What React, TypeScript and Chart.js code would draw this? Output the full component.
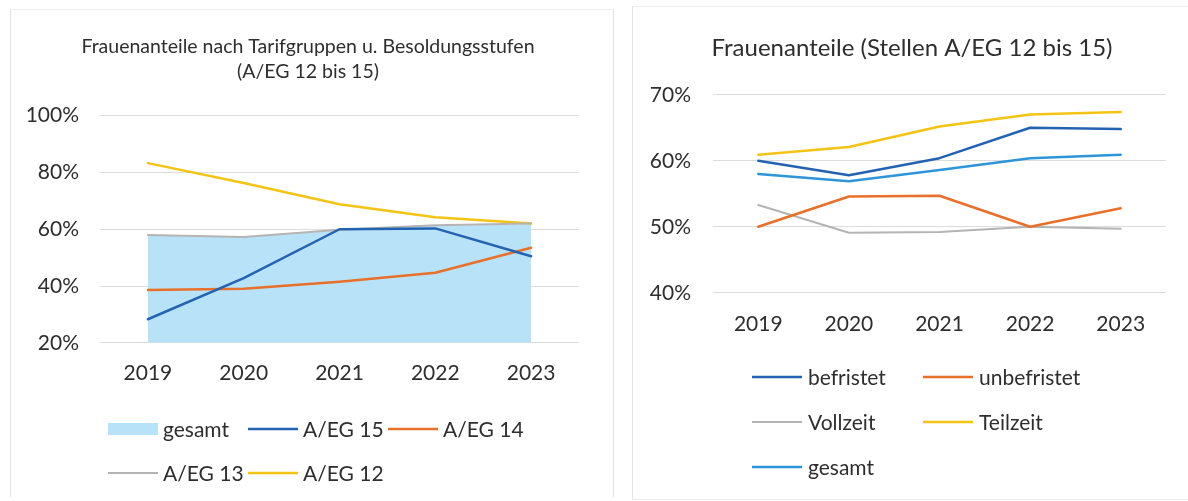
import React, { useEffect, useRef } from "react";
import { Chart, registerables } from "chart.js";

Chart.register(...registerables);

// ---------- data ----------
const years = ["2019", "2020", "2021", "2022", "2023"];

// left chart: Frauenanteile nach Tarifgruppen u. Besoldungsstufen
const leftGesamt = [57.8, 57.2, 59.6, 61.2, 61.8];
const leftAEG15 = [28.3, 42.8, 60.0, 60.3, 50.5];
const leftAEG14 = [38.6, 39.0, 41.5, 44.7, 53.5];
const leftAEG13 = [58.0, 57.3, 59.8, 61.4, 62.0];
const leftAEG12 = [83.3, 76.3, 68.8, 64.2, 62.0];
const leftYTicks = [20, 40, 60, 80, 100];

// right chart: Frauenanteile (Stellen A/EG 12 bis 15)
const rightBefristet = [60.0, 57.8, 60.4, 65.0, 64.8];
const rightUnbefristet = [50.0, 54.6, 54.7, 50.0, 52.8];
const rightVollzeit = [53.3, 49.1, 49.2, 50.0, 49.7];
const rightTeilzeit = [60.9, 62.1, 65.2, 67.0, 67.4];
const rightGesamt = [58.0, 56.9, 58.6, 60.4, 60.9];
const rightYTicks = [40, 50, 60, 70];

const leftTitle = ["Frauenanteile nach Tarifgruppen u. Besoldungsstufen", "(A/EG 12 bis 15)"];
const rightTitle = "Frauenanteile (Stellen A/EG 12 bis 15)";

// ---------- colours ----------
const C_DARKBLUE = "#2463B2";
const C_ORANGE = "#E8702A";
const C_GRAY = "#B4B4B4";
const C_YELLOW = "#F4C414";
const C_LIGHTBLUE = "#2E95D9";
const C_AREA = "#B8E2F7";
const C_TEXT = "#2E2E2E";
const C_GRID = "#DCDCDC";

const FONT = "Lato, 'Open Sans', sans-serif";

// custom grid legend (Excel-like fixed columns)
const gridLegend = {
  id: "gridLegend",
  afterDraw(chart: any, _args: any, opts: any) {
    const { ctx } = chart;
    const ds = chart.data.datasets;
    ctx.save();
    ds.forEach((d: any, i: number) => {
      const col = i % opts.cols;
      const row = Math.floor(i / opts.cols);
      const x = opts.x + col * opts.colWidth;
      const y = opts.y + row * opts.rowHeight;
      if (d.fill) {
        ctx.fillStyle = d.backgroundColor;
        ctx.fillRect(x, y - 6, opts.sample, 12);
      } else {
        ctx.strokeStyle = d.borderColor;
        ctx.lineWidth = d.borderWidth;
        ctx.beginPath();
        ctx.moveTo(x, y);
        ctx.lineTo(x + opts.sample, y);
        ctx.stroke();
      }
      ctx.fillStyle = C_TEXT;
      ctx.font = `${opts.fontSize}px ${FONT}`;
      ctx.textBaseline = "middle";
      ctx.textAlign = "left";
      ctx.fillText(d.label, x + opts.sample + opts.gap, y + 1);
    });
    ctx.restore();
  },
};

function lineDs(label: string, data: number[], color: string, width = 2.5) {
  return {
    label,
    data,
    borderColor: color,
    backgroundColor: color,
    borderWidth: width,
    pointRadius: 0,
    tension: 0,
    fill: false,
    order: 0,
    borderJoinStyle: "round" as const,
    borderCapStyle: "round" as const,
  };
}

function xScale(padding: number) {
  return {
    offset: true,
    grid: { display: false, drawTicks: false },
    border: { display: false },
    ticks: { color: C_TEXT, font: { family: FONT, size: 21 }, padding, maxRotation: 0 },
  };
}

function yScale(min: number, max: number, tickVals: number[], axisWidth: number, padding: number) {
  return {
    min,
    max,
    afterBuildTicks: (axis: any) => {
      axis.ticks = tickVals.map((v) => ({ value: v }));
    },
    afterFit: (axis: any) => {
      axis.width = axisWidth;
      // labels may extend left of the (narrowed) axis box: do not clip them
      axis._computeLabelArea = () => undefined;
    },
    grid: { color: C_GRID, lineWidth: 1, drawTicks: false },
    border: { display: false },
    ticks: {
      color: C_TEXT,
      font: { family: FONT, size: 21 },
      padding,
      callback: (v: any) => `${v}%`,
    },
  };
}

function LeftChart() {
  const ref = useRef<HTMLCanvasElement>(null);
  useEffect(() => {
    const chart = new Chart(ref.current!, {
      type: "line",
      data: {
        labels: years,
        datasets: [
          {
            label: "gesamt",
            data: leftGesamt,
            borderColor: C_AREA,
            backgroundColor: C_AREA,
            borderWidth: 0,
            pointRadius: 0,
            tension: 0,
            fill: "start",
            order: 5,
          },
          lineDs("A/EG 15", leftAEG15, C_DARKBLUE),
          lineDs("A/EG 14", leftAEG14, C_ORANGE),
          lineDs("A/EG 13", leftAEG13, C_GRAY, 2),
          lineDs("A/EG 12", leftAEG12, C_YELLOW),
        ] as any,
      },
      options: {
        responsive: false,
        animation: false,
        devicePixelRatio: 1,
        layout: { padding: { top: 20, left: 37, right: 35, bottom: 97 } },
        plugins: {
          legend: { display: false },
          tooltip: { enabled: false },
          title: {
            display: true,
            text: leftTitle,
            color: C_TEXT,
            font: { family: FONT, size: 19.5, weight: "normal", lineHeight: 1.3 },
            padding: { top: 14, bottom: 31 },
          },
          gridLegend: { x: 108, y: 429, cols: 3, colWidth: 140, rowHeight: 44, sample: 50, gap: 5, fontSize: 21 },
        } as any,
        scales: {
          x: xScale(18),
          y: yScale(20, 100, leftYTicks, 63, 21),
        } as any,
      },
      plugins: [gridLegend],
    });
    return () => chart.destroy();
  }, []);
  return <canvas ref={ref} width={614} height={501} style={{ position: "absolute", left: 0, top: 0, width: 614, height: 501 }} />;
}

function RightChart() {
  const ref = useRef<HTMLCanvasElement>(null);
  useEffect(() => {
    const chart = new Chart(ref.current!, {
      type: "line",
      data: {
        labels: years,
        datasets: [
          lineDs("befristet", rightBefristet, C_DARKBLUE),
          lineDs("unbefristet", rightUnbefristet, C_ORANGE),
          lineDs("Vollzeit", rightVollzeit, C_GRAY, 2),
          lineDs("Teilzeit", rightTeilzeit, C_YELLOW),
          lineDs("gesamt", rightGesamt, C_LIGHTBLUE),
        ] as any,
      },
      options: {
        responsive: false,
        animation: false,
        devicePixelRatio: 1,
        layout: { padding: { top: 20, left: 38, right: 22, bottom: 145 } },
        plugins: {
          legend: { display: false },
          tooltip: { enabled: false },
          title: {
            display: true,
            text: rightTitle,
            color: C_TEXT,
            font: { family: FONT, size: 24, weight: "normal", lineHeight: 1.2 },
            padding: { top: 14, bottom: 32 },
          },
          gridLegend: { x: 132, y: 377, cols: 2, colWidth: 171, rowHeight: 45, sample: 50, gap: 6, fontSize: 21 },
        } as any,
        scales: {
          x: xScale(19),
          y: yScale(40, 70, rightYTicks, 55, 22),
        } as any,
      },
      plugins: [gridLegend],
    });
    return () => chart.destroy();
  }, []);
  return <canvas ref={ref} width={568} height={501} style={{ position: "absolute", left: 620, top: 0, width: 568, height: 501 }} />;
}

export default function App() {
  return (
    <div style={{ position: "absolute", left: 0, top: 0, width: 1188, height: 501, background: "#fff", overflow: "hidden" }}>
      {/* faint panel frames */}
      <div style={{ position: "absolute", left: 10, top: 9, width: 604, height: 488, borderLeft: "1px solid #e4e4e4", borderTop: "1px solid #eeeeee", borderRight: "1px solid #e2e2e2", boxSizing: "border-box" }} />
      <div style={{ position: "absolute", left: 632, top: 6, width: 556, height: 494, borderLeft: "1px solid #e4e4e4", borderTop: "1px solid #eeeeee", borderBottom: "1px solid #eeeeee", boxSizing: "border-box" }} />
      <LeftChart />
      <RightChart />
    </div>
  );
}
